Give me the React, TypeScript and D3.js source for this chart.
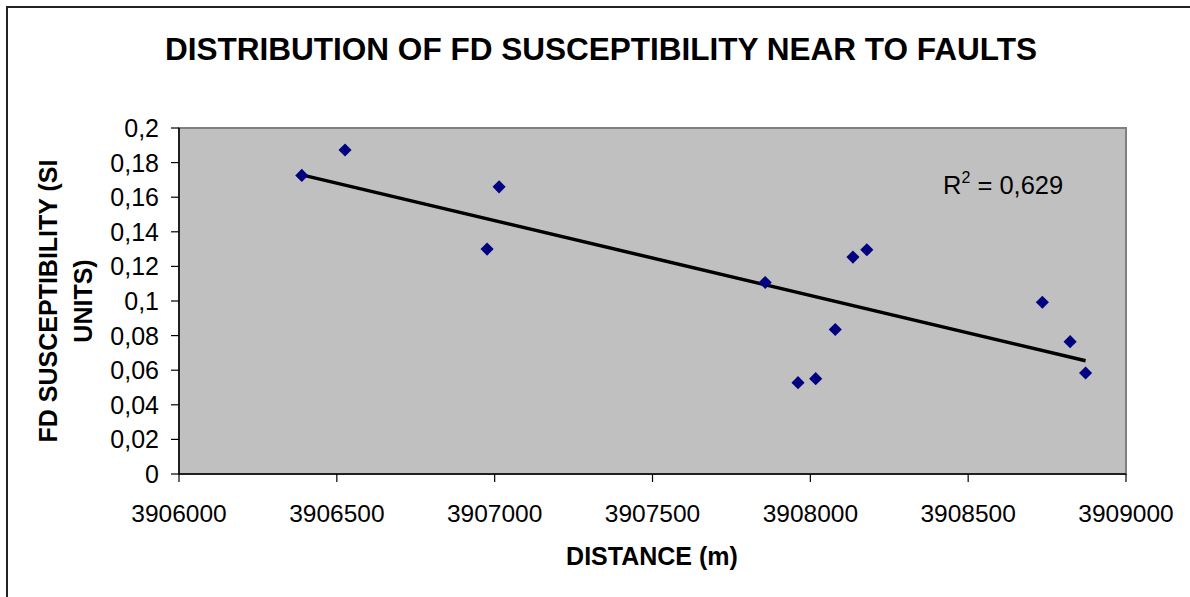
import React from "react";
import * as d3 from "d3";

const distances = [3906389, 3906526, 3906976, 3907014, 3907857, 3907961, 3908017, 3908079, 3908135, 3908179, 3908735, 3908823, 3908872];
const susceptibility = [0.1726, 0.1873, 0.13, 0.166, 0.1107, 0.0528, 0.0551, 0.0835, 0.1254, 0.1296, 0.0993, 0.0765, 0.0584];
const xTicks = [3906000, 3906500, 3907000, 3907500, 3908000, 3908500, 3909000];
const yTicks = [0, 0.02, 0.04, 0.06, 0.08, 0.1, 0.12, 0.14, 0.16, 0.18, 0.2];
const titleText = "DISTRIBUTION OF FD SUSCEPTIBILITY NEAR TO FAULTS";
const xLabel = "DISTANCE (m)";
const yLabelLines = ["FD SUSCEPTIBILITY (SI", "UNITS)"];
const r2Text = "0,629";

const W = 1190;
const H = 597;
const plot = { left: 179, right: 1126, top: 128, bottom: 474 };
const FONT = "'Liberation Sans', Arial, Helvetica, sans-serif";

export default function App() {
  const x = d3.scaleLinear().domain([3906000, 3909000]).range([plot.left, plot.right]);
  const y = d3.scaleLinear().domain([0, 0.2]).range([plot.bottom, plot.top]);

  // linear regression trendline
  const n = distances.length;
  const mx = d3.mean(distances)!;
  const my = d3.mean(susceptibility)!;
  let sxy = 0, sxx = 0;
  for (let i = 0; i < n; i++) {
    sxy += (distances[i] - mx) * (susceptibility[i] - my);
    sxx += (distances[i] - mx) ** 2;
  }
  const slope = sxy / sxx;
  const icpt = my - slope * mx;
  const [xmin, xmax] = d3.extent(distances) as [number, number];
  const line = d3.line<number>().x((d) => x(d)).y((d) => y(icpt + slope * d));

  const fmtY = (v: number) => String(+v.toFixed(2)).replace(".", ",");
  const diamond = d3.symbol().type(d3.symbolDiamond2).size(110)();
  const cy = (plot.top + plot.bottom) / 2;

  return (
    <svg width={W} height={H} style={{ position: "absolute", left: 0, top: 0, background: "#fff" }} fontFamily={FONT}>
      <rect x={7} y={7} width={W + 10} height={H + 10} fill="#fff" stroke="#222" strokeWidth={2} />
      <text x={601} y={60} textAnchor="middle" fontSize={31.5} fontWeight="bold" fill="#000" textLength={872} lengthAdjust="spacingAndGlyphs">
        {titleText}
      </text>
      <rect x={plot.left} y={plot.top} width={plot.right - plot.left} height={plot.bottom - plot.top} fill="#C0C0C0" stroke="#808080" strokeWidth={2} />
      <line x1={plot.left} x2={plot.left} y1={plot.top} y2={plot.bottom} stroke="#000" strokeWidth={1.5} />
      <line x1={plot.left} x2={plot.right} y1={plot.bottom} y2={plot.bottom} stroke="#000" strokeWidth={1.5} />
      {yTicks.map((t) => (
        <g key={"y" + t}>
          <line x1={plot.left - 8} x2={plot.left} y1={y(t)} y2={y(t)} stroke="#000" strokeWidth={1.2} />
          <text x={159} y={y(t) + 9} textAnchor="end" fontSize={25} fill="#000">
            {fmtY(t)}
          </text>
        </g>
      ))}
      {xTicks.map((t) => (
        <g key={"x" + t}>
          <line x1={x(t)} x2={x(t)} y1={plot.bottom} y2={plot.bottom + 8} stroke="#000" strokeWidth={1.2} />
          <text x={x(t)} y={522} textAnchor="middle" fontSize={24.5} fill="#000">
            {t}
          </text>
        </g>
      ))}
      <path d={line([xmin, xmax]) || ""} fill="none" stroke="#000" strokeWidth={3.5} />
      {distances.map((d, i) => (
        <path key={i} d={diamond || ""} transform={`translate(${x(d)},${y(susceptibility[i])})`} fill="#000080" />
      ))}
      <text x={943} y={194} fontSize={25.5} fill="#000">
        R<tspan dy={-11} fontSize={16}>2</tspan>
        <tspan dy={11}> = {r2Text}</tspan>
      </text>
      <text x={652} y={565} textAnchor="middle" fontSize={25} fontWeight="bold" fill="#000">
        {xLabel}
      </text>
      {yLabelLines.map((l, i) => (
        <text key={i} transform={`translate(${57 + i * 35},${cy}) rotate(-90)`} textAnchor="middle" fontSize={25} fontWeight="bold" fill="#000">
          {l}
        </text>
      ))}
    </svg>
  );
}
